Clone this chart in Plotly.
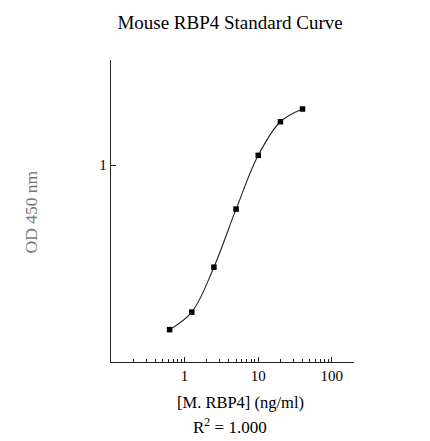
from plotly import graph_objects

# standard concentrations (ng/ml) and OD 450 nm
concentration = [0.625, 1.25, 2.5, 5, 10, 20, 40]
od_450 = [0.179, 0.215, 0.344, 0.631, 1.107, 1.573, 1.797]

x_tick_values = [1, 10, 100]
x_tick_labels = ["1", "10", "100"]
y_tick_values = [1]
y_tick_labels = ["1"]

serif = "Liberation Serif, Times New Roman, serif"

fig = graph_objects.Figure()
fig.add_trace(graph_objects.Scatter(
    x=concentration,
    y=od_450,
    mode="lines+markers",
    line=dict(color="#222222", width=1.1, shape="spline", smoothing=1.0),
    marker=dict(symbol="square", size=5.5, color="black"),
    showlegend=False,
))

# the page adds ~8px of body margin, so the plot box is pulled up/left to compensate
fig.update_layout(
    width=430,
    height=441,
    margin=dict(l=103, r=84, t=52, b=87),
    paper_bgcolor="white",
    plot_bgcolor="white",
    font=dict(family=serif, color="black", size=12),
    title=dict(text="Mouse RBP4 Standard Curve", xref="paper", x=0.49, xanchor="center",
               y=0.968, yanchor="middle", font=dict(size=19, family=serif)),
    annotations=[
        dict(text="[M. RBP4] (ng/ml)", xref="paper", yref="paper", x=0.533, y=-0.133,
             xanchor="center", yanchor="middle", showarrow=False, font=dict(size=16.5)),
        dict(text="R<sup>2</sup> = 1.000", xref="paper", yref="paper", x=0.49, y=-0.212,
             xanchor="center", yanchor="middle", showarrow=False, font=dict(size=17)),
        dict(text="OD 450 nm", xref="paper", yref="paper", x=-0.328, y=0.496,
             xanchor="center", yanchor="middle", textangle=-90, showarrow=False,
             font=dict(size=17.5, color="#777777")),
    ],
)

fig.update_xaxes(
    type="log",
    range=[-1, 2.301],
    showline=True, linecolor="#222222", linewidth=1.3,
    showgrid=False, zeroline=False,
    tickvals=x_tick_values, ticktext=x_tick_labels,
    ticks="inside", ticklen=5, tickcolor="#222222", tickwidth=1,
    tickfont=dict(size=15),
    minor=dict(ticks="inside", ticklen=3, tickcolor="#222222", tickwidth=1,
               dtick="D1", showgrid=False),
)
fig.update_yaxes(
    type="log",
    range=[-0.894, 0.477],
    showline=True, linecolor="#222222", linewidth=1.3,
    showgrid=False, zeroline=False,
    tickvals=y_tick_values, ticktext=y_tick_labels,
    ticks="inside", ticklen=5, tickcolor="#222222", tickwidth=1,
    tickfont=dict(size=15),
)

fig.write_html("out.html")
